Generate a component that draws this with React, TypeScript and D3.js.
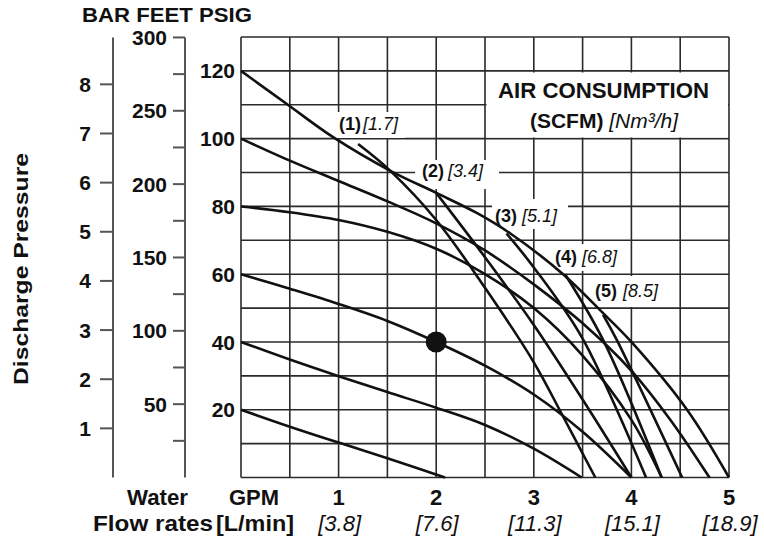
import React from 'react';
import * as d3 from 'd3';

// ---- Data ----
const GPM_TICKS = [1, 2, 3, 4, 5];
const LPM_LABELS = ['[3.8]', '[7.6]', '[11.3]', '[15.1]', '[18.9]'];
const PSIG_TICKS = [20, 40, 60, 80, 100, 120];
const BAR_TICKS = [1, 2, 3, 4, 5, 6, 7, 8];
const FEET_MAJOR = [50, 100, 150, 200, 250, 300];
const FEET_MINOR = [25, 75, 125, 175, 225, 275];

// Inlet air pressure curves [gpm, psi]
const P120 = [[0, 120], [0.48, 110], [0.94, 100.5], [1.53, 90.5], [2.0, 84], [2.42, 78], [2.76, 72], [3.3, 60], [3.71, 48.5], [4.0, 40], [4.57, 20], [5.0, 0]];
const P100 = [[0, 100], [0.5, 93.5], [1.0, 87.5], [1.5, 81.5], [2.0, 75], [2.5, 67], [3.0, 57], [3.5, 45.5], [4.0, 31.5], [4.4, 17], [4.8, 0]];
const P80 = [[0, 80], [0.5, 78.3], [1.0, 76], [1.5, 72.5], [2.0, 67.5], [2.5, 60], [3.0, 50], [3.5, 36], [4.0, 17], [4.31, 0]];
const P60 = [[0, 60], [0.5, 55.7], [1.0, 51.2], [1.5, 46.2], [2.0, 40], [2.5, 33], [3.0, 24.5], [3.5, 13.5], [4.0, 0]];
const P40 = [[0, 40], [0.5, 34.8], [1.0, 29.9], [1.5, 25.2], [2.0, 20.6], [2.5, 15.5], [3.0, 8.5], [3.49, 0]];
const P20 = [[0, 20], [0.5, 15], [1.0, 10.3], [1.5, 5.7], [2.09, 0]];

// Air consumption lines [gpm, psi]
const AIR1 = [[1.2, 98.4], [1.53, 90.5], [2.0, 76], [2.5, 56], [3.0, 34], [3.3, 18], [3.63, 0]];
const AIR2 = [[2.0, 84], [2.5, 65], [3.0, 45], [3.5, 23], [4.0, 0]];
const AIR3 = [[2.72, 72], [3.0, 62], [3.5, 41], [4.15, 0]];
const AIR4 = [[3.32, 60], [3.71, 40.6], [4.31, 0]];
const AIR5 = [[3.71, 48], [3.85, 40.6], [4.52, 0]];

const AIR_NUMS = ['(1)', '(2)', '(3)', '(4)', '(5)'];
const AIR_VALUES = ['[1.7]', '[3.4]', '[5.1]', '[6.8]', '[8.5]'];

const DUTY_POINT = [2, 40];

const FONT = 'Liberation Sans, Arial, Helvetica, sans-serif';

export default function App() {
  const x = d3.scaleLinear().domain([0, 5]).range([241, 729]);
  const y = d3.scaleLinear().domain([0, 130]).range([477.5, 37]);
  const yBar = (b: number) => y(b * 14.5038);
  const yFeet = (f: number) => y(f / 2.31);

  const line = d3
    .line<number[]>()
    .x((d) => x(d[0]))
    .y((d) => y(d[1]))
    .curve(d3.curveCatmullRom.alpha(0.5));

  const pressureCurves = [P120, P100, P80, P60, P40, P20];
  const airCurves = [AIR1, AIR2, AIR3, AIR4, AIR5];

  const vGrid = d3.range(0, 5.01, 0.5);
  const hGrid = d3.range(0, 131, 10);

  // label anchors (layout)
  const labelPos = [
    { nx: 339, vx: 363, y: 130 },
    { nx: 422, vx: 448, y: 177 },
    { nx: 495, vx: 522, y: 222 },
    { nx: 555, vx: 582, y: 263 },
    { nx: 595, vx: 623, y: 297 },
  ];
  const masks = [
    [335, 112, 70, 26],
    [415, 160, 84, 29],
    [492, 199, 76, 30],
    [552, 244, 68, 27],
    [592, 276, 72, 31],
    [486.5, 72.5, 241.5, 65],
  ];

  const gridColor = '#2a2a2a';
  const axisColor = '#555';
  const ink = '#111';

  return (
    <svg width={764} height={540} style={{ position: 'absolute', left: 0, top: 0, background: '#fff' }} fontFamily={FONT}>
      <rect x={0} y={0} width={764} height={540} fill="#fff" />
      {/* Grid */}
      {vGrid.map((g, i) => (
        <line key={'v' + i} x1={x(g)} x2={x(g)} y1={y(130)} y2={y(0)} stroke={gridColor} strokeWidth={1.6} />
      ))}
      {hGrid.map((g, i) => (
        <line key={'h' + i} x1={x(0)} x2={x(5)} y1={y(g)} y2={y(g)} stroke={gridColor} strokeWidth={1.6} />
      ))}
      {masks.map((m, i) => (
        <rect key={'m' + i} x={m[0]} y={m[1]} width={m[2]} height={m[3]} fill="#fff" />
      ))}

      {/* Curves */}
      {pressureCurves.map((c, i) => (
        <path key={'p' + i} d={line(c as any) || ''} fill="none" stroke={ink} strokeWidth={2.6} />
      ))}
      {airCurves.map((c, i) => (
        <path key={'a' + i} d={line(c as any) || ''} fill="none" stroke={ink} strokeWidth={2.6} />
      ))}
      <circle cx={x(DUTY_POINT[0])} cy={y(DUTY_POINT[1])} r={10.5} fill={ink} />

      {/* Air labels */}
      {labelPos.map((p, i) => (
        <g key={'al' + i}>
          <text x={p.nx} y={p.y} fontSize={18} fontWeight="bold" fill={ink}>{AIR_NUMS[i]}</text>
          <text x={p.vx} y={p.y} fontSize={18} fontStyle="italic" fill={ink}>{AIR_VALUES[i]}</text>
        </g>
      ))}
      <text x={498} y={98} fontSize={22} fontWeight="bold" textLength={211} lengthAdjust="spacingAndGlyphs" fill={ink}>AIR CONSUMPTION</text>
      <text x={604} y={128} fontSize={21} textAnchor="middle" fill={ink}>
        <tspan fontWeight="bold">(SCFM)</tspan>
        <tspan fontStyle="italic"> [Nm³/h]</tspan>
      </text>

      {/* PSIG labels */}
      {PSIG_TICKS.map((t) => (
        <text key={'ps' + t} x={235} y={y(t)} dy="0.36em" fontSize={21} fontWeight="bold" textAnchor="end" fill={ink}>{t}</text>
      ))}

      {/* FEET axis */}
      <line x1={185} x2={185} y1={yFeet(300)} y2={y(0)} stroke={axisColor} strokeWidth={2} />
      {FEET_MAJOR.concat(FEET_MINOR).map((t) => (
        <line key={'ft' + t} x1={173} x2={185} y1={yFeet(t)} y2={yFeet(t)} stroke={axisColor} strokeWidth={2} />
      ))}
      {FEET_MAJOR.map((t) => (
        <text key={'fl' + t} x={167} y={yFeet(t)} dy="0.36em" fontSize={21} fontWeight="bold" textAnchor="end" fill={ink}>{t}</text>
      ))}

      {/* BAR axis */}
      <line x1={113} x2={113} y1={yFeet(300)} y2={y(0)} stroke={axisColor} strokeWidth={2} />
      {BAR_TICKS.map((t) => (
        <line key={'bt' + t} x1={100} x2={113} y1={yBar(t)} y2={yBar(t)} stroke={axisColor} strokeWidth={2} />
      ))}
      {BAR_TICKS.map((t) => (
        <text key={'bl' + t} x={91} y={yBar(t)} dy="0.36em" fontSize={21} fontWeight="bold" textAnchor="end" fill={ink}>{t}</text>
      ))}

      <text x={82} y={22} fontSize={21} fontWeight="bold" textLength={170} lengthAdjust="spacingAndGlyphs" fill={ink}>BAR FEET PSIG</text>

      <text transform="translate(28,385) rotate(-90)" fontSize={21} fontWeight="bold" textLength={232} lengthAdjust="spacingAndGlyphs" fill={ink}>Discharge Pressure</text>

      {/* Bottom labels */}
      <text x={127} y={505} fontSize={22} fontWeight="bold" textLength={61} lengthAdjust="spacingAndGlyphs" fill={ink}>Water</text>
      <text x={93} y={531} fontSize={22} fontWeight="bold" textLength={120} lengthAdjust="spacingAndGlyphs" fill={ink}>Flow rates</text>
      <text x={229} y={505} fontSize={22} fontWeight="bold" textLength={50} lengthAdjust="spacingAndGlyphs" fill={ink}>GPM</text>
      <text x={216} y={531} fontSize={22} fontWeight="bold" textLength={78} lengthAdjust="spacingAndGlyphs" fill={ink}>[L/min]</text>
      {GPM_TICKS.map((t, i) => (
        <g key={'g' + t}>
          <text x={x(t)} y={505} fontSize={22} fontWeight="bold" textAnchor="middle" fill={ink}>{t}</text>
          <text x={x(t) + 1} y={531} fontSize={22} fontStyle="italic" textAnchor="middle" fill={ink}>{LPM_LABELS[i]}</text>
        </g>
      ))}
    </svg>
  );
}
